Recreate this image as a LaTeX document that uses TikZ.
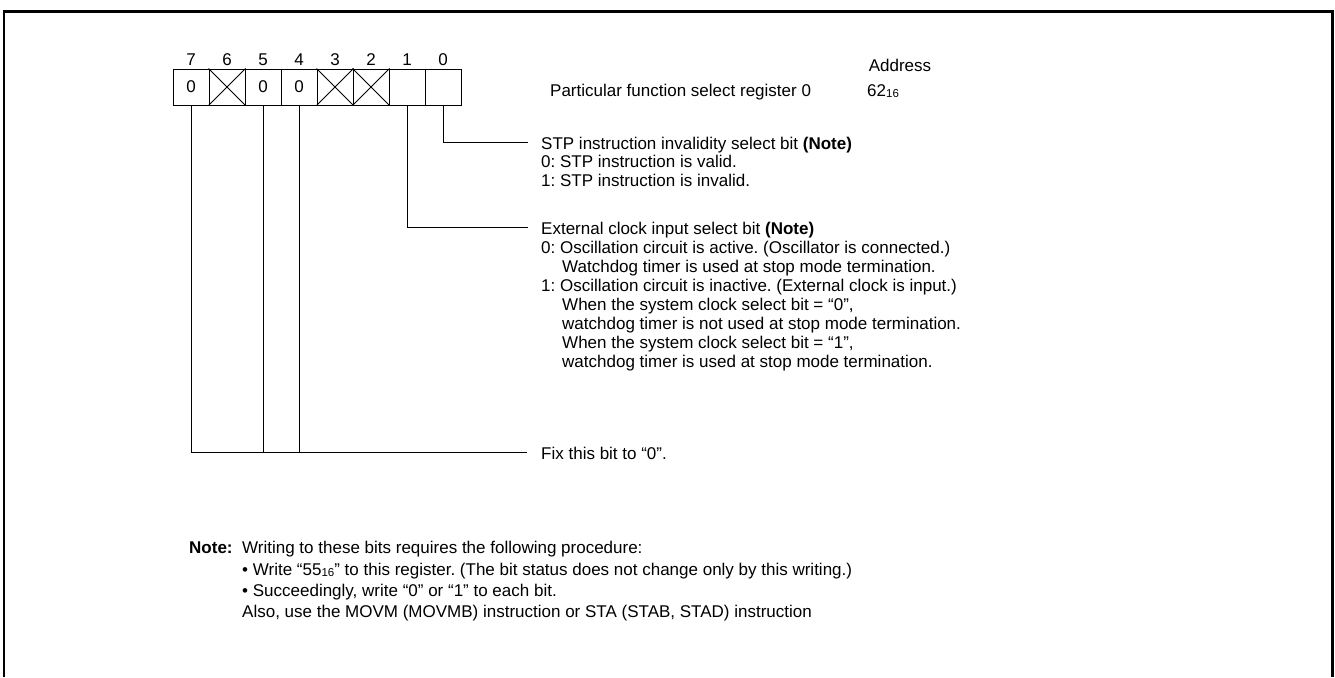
\documentclass[tikz,border=0pt]{standalone}
\usepackage{fontspec}
\setmainfont{Liberation Sans}
\frenchspacing
\newcommand{\hexsub}[1]{\raisebox{-0.15ex}{\fontsize{11.5}{11.5}\selectfont #1}}
\begin{document}
\begin{tikzpicture}[x=1pt,y=-1pt,
  txt/.style={anchor=base west, inner sep=0pt, font=\fontsize{17}{19}\selectfont},
  numtxt/.style={anchor=base, inner sep=0pt, font=\fontsize{17}{19}\selectfont},
  cell/.style={draw, line width=1pt, minimum width=36pt, minimum height=36pt, inner sep=0pt, font=\fontsize{17}{19}\selectfont},
  conn/.style={line width=0.9pt},
  frame/.style={line width=2.5pt}]
\useasboundingbox (0,0) rectangle (1335,677);
\draw[frame] (4.2,677) -- (4.2,11.3) -- (1332.5,11.3) -- (1332.5,677);

% register cells
\node[cell] (b7) at (191,87) {0};
\node[cell] (b6) at (227,87) {};
\node[cell] (b5) at (263,87) {0};
\node[cell] (b4) at (299,87) {0};
\node[cell] (b3) at (335,87) {};
\node[cell] (b2) at (371,87) {};
\node[cell] (b1) at (407,87) {};
\node[cell] (b0) at (443,87) {};
\foreach \c in {b6,b3,b2}{
  \draw[line width=0.8pt] (\c.north west) -- (\c.south east) (\c.north east) -- (\c.south west);
}
\foreach \b/\x in {7/191,6/227,5/263,4/299,3/335,2/371,1/407,0/443}{
  \node[numtxt] (n\b) at (\x,66) {\b};
}

% header
\node[numtxt] (addr) at (900,71) {Address};
\node[txt] (regname) at (550,96) {Particular function select register 0};
\node[txt] (addrval) at (867,96) {62\hexsub{16}};

% connectors
\coordinate (e0) at (528,142.7);
\coordinate (e1) at (528,227.7);
\coordinate (e7) at (527,452.7);
\draw[conn] (b0.south) |- (e0);
\draw[conn] (b1.south) |- (e1);
\draw[conn] (b7.south) |- (e7);
\draw[conn] (b5.south) -- (b5.south |- e7);
\draw[conn] (b4.south) -- (b4.south |- e7);

% bit 0 description
\node[txt] (t0a) at (541,149) {STP instruction invalidity select bit \textbf{(Note)}};
\node[txt] (t0b) at (541,167.5) {0: STP instruction is valid.};
\node[txt] (t0c) at (541,186.5) {1: STP instruction is invalid.};

% bit 1 description
\node[txt] (t1a) at (541,234) {External clock input select bit \textbf{(Note)}};
\node[txt] (t1b) at (541,253) {0: Oscillation circuit is active. (Oscillator is connected.)};
\node[txt] (t1c) at (562,272) {Watchdog timer is used at stop mode termination.};
\node[txt] (t1d) at (541,291) {1: Oscillation circuit is inactive. (External clock is input.)};
\node[txt] (t1e) at (562,310) {When the system clock select bit = “0”,};
\node[txt] (t1f) at (562,329) {watchdog timer is not used at stop mode termination.};
\node[txt] (t1g) at (562,348) {When the system clock select bit = “1”,};
\node[txt] (t1h) at (562,367) {watchdog timer is used at stop mode termination.};

% fixed bits
\node[txt] (t7) at (541,459) {Fix this bit to “0”.};

% note
\node[txt] (na) at (189,553) {\textbf{Note:}};
\node[txt] (nb) at (242,553) {Writing to these bits requires the following procedure:};
\node[txt] (nc) at (242,575) {• Write “55\hexsub{16}” to this register. (The bit status does not change only by this writing.)};
\node[txt] (nd) at (242,596) {• Succeedingly, write “0” or “1” to each bit.};
\node[txt] (ne) at (242,617) {Also, use the MOVM (MOVMB) instruction or STA (STAB, STAD) instruction};
\end{tikzpicture}
\end{document}
